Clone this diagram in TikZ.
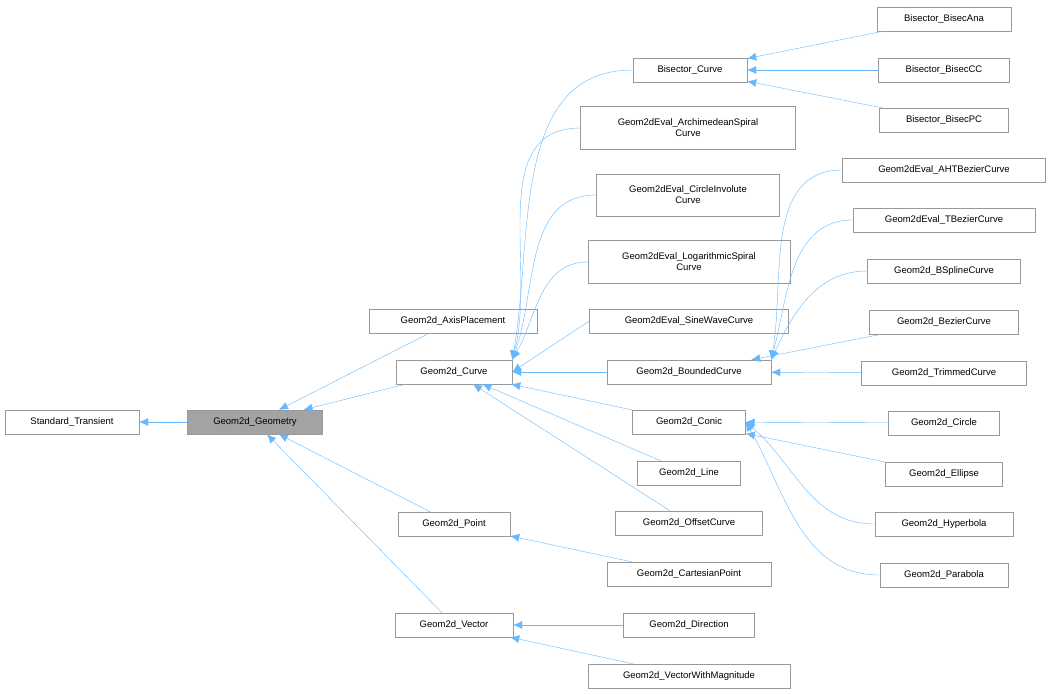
\documentclass[tikz,border=0pt]{standalone}
\usepackage{fontspec}
\setmainfont{Liberation Sans}
\usepackage{tikz}
\usetikzlibrary{arrows.meta,positioning}
\definecolor{edgeblue}{RGB}{99,184,255}
\definecolor{boxgray}{RGB}{153,153,153}
\tikzset{
  cls/.style={draw=boxgray,fill=white,minimum height=24pt,inner sep=1pt,align=center,
    font=\fontsize{9.5}{11}\selectfont},
  base/.style={cls,fill=boxgray!90},
  inh/.style={draw=edgeblue,{Latex[length=9pt,width=8pt,fill=edgeblue]}-}
}
\begin{document}
\begin{tikzpicture}[x=1pt,y=-1pt]
\useasboundingbox (0,0) rectangle (1051,695);
% left part
\node[cls,minimum width=134pt] (ST) at (72,422) {Standard\_Transient};
\node[base,minimum width=135pt] (GG) at (255,422) {Geom2d\_Geometry};
\node[cls,minimum width=168pt] (AP) at (453,321) {Geom2d\_AxisPlacement};
\node[cls,minimum width=116pt] (GC) at (454,372) {Geom2d\_Curve};
\node[cls,minimum width=112pt] (GP) at (454,524) {Geom2d\_Point};
\node[cls,minimum width=118pt] (GV) at (454,625) {Geom2d\_Vector};
% middle column
\node[cls,minimum width=114pt] (BC) at (690,70) {Bisector\_Curve};
\node[cls,minimum width=215pt,minimum height=43pt] (AS) at (688,128) {Geom2dEval\_ArchimedeanSpiral\\Curve};
\node[cls,minimum width=183pt,minimum height=42pt] (CI) at (688,195) {Geom2dEval\_CircleInvolute\\Curve};
\node[cls,minimum width=202pt,minimum height=43pt] (LS) at (689,262) {Geom2dEval\_LogarithmicSpiral\\Curve};
\node[cls,minimum width=199pt] (SW) at (689,321) {Geom2dEval\_SineWaveCurve};
\node[cls,minimum width=164pt] (BD) at (689,372) {Geom2d\_BoundedCurve};
\node[cls,minimum width=113pt] (CO) at (689,422) {Geom2d\_Conic};
\node[cls,minimum width=103pt] (LI) at (689,473) {Geom2d\_Line};
\node[cls,minimum width=147pt] (OC) at (689,523) {Geom2d\_OffsetCurve};
\node[cls,minimum width=164pt] (CP) at (689,574) {Geom2d\_CartesianPoint};
\node[cls,minimum width=131pt] (DI) at (689,625) {Geom2d\_Direction};
\node[cls,minimum width=202pt] (VM) at (689,676) {Geom2d\_VectorWithMagnitude};
% right column
\node[cls,minimum width=134pt] (BA) at (944,19) {Bisector\_BisecAna};
\node[cls,minimum width=131pt] (BCC) at (944,70) {Bisector\_BisecCC};
\node[cls,minimum width=129pt] (BPC) at (944,120) {Bisector\_BisecPC};
\node[cls,minimum width=203pt] (AHT) at (944,170) {Geom2dEval\_AHTBezierCurve};
\node[cls,minimum width=182pt] (TB) at (944,220) {Geom2dEval\_TBezierCurve};
\node[cls,minimum width=153pt] (BS) at (944,271) {Geom2d\_BSplineCurve};
\node[cls,minimum width=149pt] (BZ) at (944,322) {Geom2d\_BezierCurve};
\node[cls,minimum width=165pt] (TC) at (944,373) {Geom2d\_TrimmedCurve};
\node[cls,minimum width=111pt] (CR) at (944,423) {Geom2d\_Circle};
\node[cls,minimum width=117pt] (EL) at (944,474) {Geom2d\_Ellipse};
\node[cls,minimum width=138pt] (HY) at (944,524) {Geom2d\_Hyperbola};
\node[cls,minimum width=128pt] (PA) at (944,575) {Geom2d\_Parabola};
% edges
\draw[inh] (ST) -- (GG);
\draw[inh] (GG) -- (AP);
\draw[inh] (GG) -- (GC);
\draw[inh] (GG) -- (GP);
\draw[inh] (GG) -- (GV);
\draw[inh] (GC.north east) to[out=80,in=180] (BC.west);
\draw[inh] (GC.north east) to[out=75,in=180] (AS.west);
\draw[inh] (GC.north east) to[out=70,in=180] (CI.west);
\draw[inh] (GC.north east) to[out=60,in=180] (LS.west);
\draw[inh] (GC.east) -- (SW.west);
\draw[inh] (GC) -- (BD);
\draw[inh] (GC) -- (CO);
\draw[inh] (GC) -- (LI);
\draw[inh] (GC) -- (OC);
\draw[inh] (GP) -- (CP);
\draw[inh] (GV) -- (DI);
\draw[inh] (GV) -- (VM);
\draw[inh] (BC) -- (BA);
\draw[inh] (BC) -- (BCC);
\draw[inh] (BC) -- (BPC);
\draw[inh] (BD.north east) to[out=80,in=180] (AHT.west);
\draw[inh] (BD.north east) to[out=75,in=180] (TB.west);
\draw[inh] (BD.north east) to[out=65,in=180] (BS.west);
\draw[inh] (BD) -- (BZ);
\draw[inh] (BD) -- (TC);
\draw[inh] (CO) -- (CR);
\draw[inh] (CO) -- (EL);
\draw[inh] (CO.east) to[out=-40,in=180] (HY.west);
\draw[inh] (CO.east) to[out=-60,in=180] (PA.west);
\end{tikzpicture}
\end{document}
